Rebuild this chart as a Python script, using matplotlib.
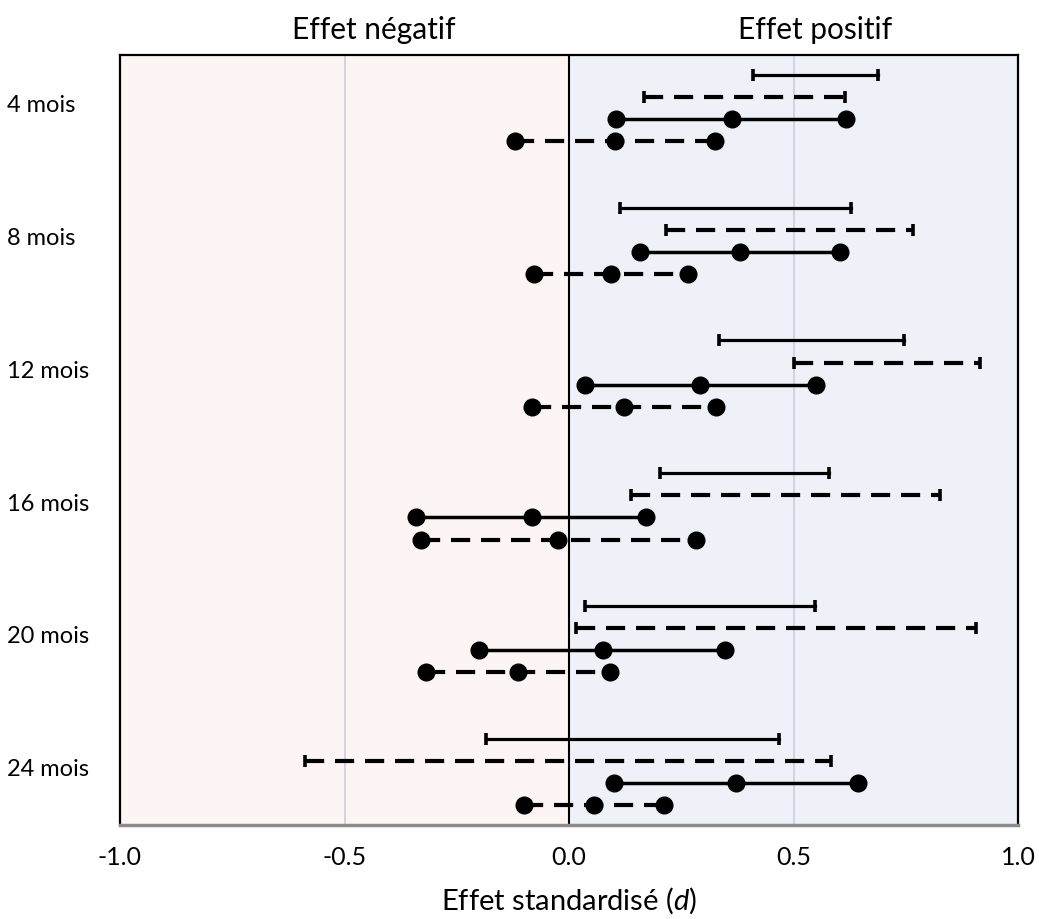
import matplotlib.pyplot as plt
import matplotlib.transforms as mtransforms

plt.rcParams['font.family'] = ['Lato', 'DejaVu Sans']
plt.rcParams['mathtext.fontset'] = 'custom'
plt.rcParams['mathtext.rm'] = 'Lato'
plt.rcParams['mathtext.it'] = 'Lato:italic'

months = ['4 mois', '8 mois', '12 mois', '16 mois', '20 mois', '24 mois']

# intervalles avec barres d'extrémité (traits pleins / pointillés)
ci_solid_lo = [0.410, 0.114, 0.335, 0.203, 0.036, -0.184]
ci_solid_hi = [0.688, 0.629, 0.747, 0.578, 0.548, 0.467]
ci_dash_lo = [0.168, 0.216, 0.502, 0.138, 0.016, -0.587]
ci_dash_hi = [0.614, 0.766, 0.915, 0.826, 0.906, 0.584]

# effets estimés : borne basse, estimation, borne haute
pt_solid = [[0.105, 0.362, 0.618],
            [0.159, 0.381, 0.603],
            [0.035, 0.291, 0.549],
            [-0.340, -0.083, 0.172],
            [-0.200, 0.075, 0.347],
            [0.100, 0.371, 0.643]]
pt_dash = [[-0.120, 0.103, 0.326],
           [-0.079, 0.093, 0.264],
           [-0.083, 0.122, 0.328],
           [-0.330, -0.024, 0.282],
           [-0.318, -0.113, 0.092],
           [-0.100, 0.055, 0.211]]

fig = plt.figure(figsize=(10.39, 9.19), dpi=100)
ax = fig.add_axes([120 / 1039, 1 - 825 / 919, 898 / 1039, 770 / 919])

ax.axvspan(-1, 0, color='#fdf5f4', zorder=0)
ax.axvspan(0, 1, color='#eef2f8', zorder=0)
for gx in (-0.5, 0.5):
    ax.axvline(gx, color='#c9cfda', lw=1.2, zorder=1)
ax.axvline(0, color='black', lw=1.5, zorder=2)

dash = (0, (4.6, 2.6))
for i in range(len(months)):
    y0 = i * 6
    # rangée 1 : trait plein avec barres
    ax.plot([ci_solid_lo[i], ci_solid_hi[i]], [y0, y0], color='black', lw=2.3, zorder=3)
    ax.plot([ci_solid_lo[i], ci_solid_hi[i]], [y0, y0], ls='none', marker='|',
            ms=9, mew=2.6, color='black', zorder=3)
    # rangée 2 : pointillés avec barres
    ax.plot([ci_dash_lo[i], ci_dash_hi[i]], [y0 + 1, y0 + 1], color='black', lw=3,
            ls=dash, zorder=3)
    ax.plot([ci_dash_lo[i], ci_dash_hi[i]], [y0 + 1, y0 + 1], ls='none', marker='|',
            ms=9, mew=2.6, color='black', zorder=3)
    # rangée 3 : trait plein avec points
    ax.plot(pt_solid[i], [y0 + 2] * 3, color='black', lw=2.5, marker='o', ms=12, zorder=4)
    # rangée 4 : pointillés avec points
    ax.plot(pt_dash[i], [y0 + 3] * 3, color='black', lw=3, ls=dash, marker='o',
            ms=12, zorder=4)

ax.set_xlim(-1, 1)
ax.set_ylim(33.9, -0.9)
ax.set_xticks([-1.0, -0.5, 0.0, 0.5, 1.0])
ax.set_xticklabels(['-1.0', '-0.5', '0.0', '0.5', '1.0'], fontsize=18)
ax.tick_params(axis='x', length=0, pad=15)
ax.set_yticks([])

for side in ('top', 'left', 'right'):
    ax.spines[side].set_linewidth(1.6)
    ax.spines[side].set_color('black')
ax.spines['bottom'].set_linewidth(2.5)
ax.spines['bottom'].set_color('#8c8c8c')

trans = mtransforms.blended_transform_factory(fig.transFigure, ax.transData)
for i, m in enumerate(months):
    ax.text(7 / 1039, i * 6 + 1.4, m, transform=trans, ha='left', va='center', fontsize=17)

ax.set_xlabel('Effet standardisé ($\\mathit{d}$)', fontsize=21, labelpad=12)

fig.text(374 / 1039, 1 - 30 / 919, 'Effet négatif', ha='center', va='center', fontsize=21.5)
fig.text(815 / 1039, 1 - 30 / 919, 'Effet positif', ha='center', va='center', fontsize=21.5)

fig.savefig('out.png', dpi=100)
